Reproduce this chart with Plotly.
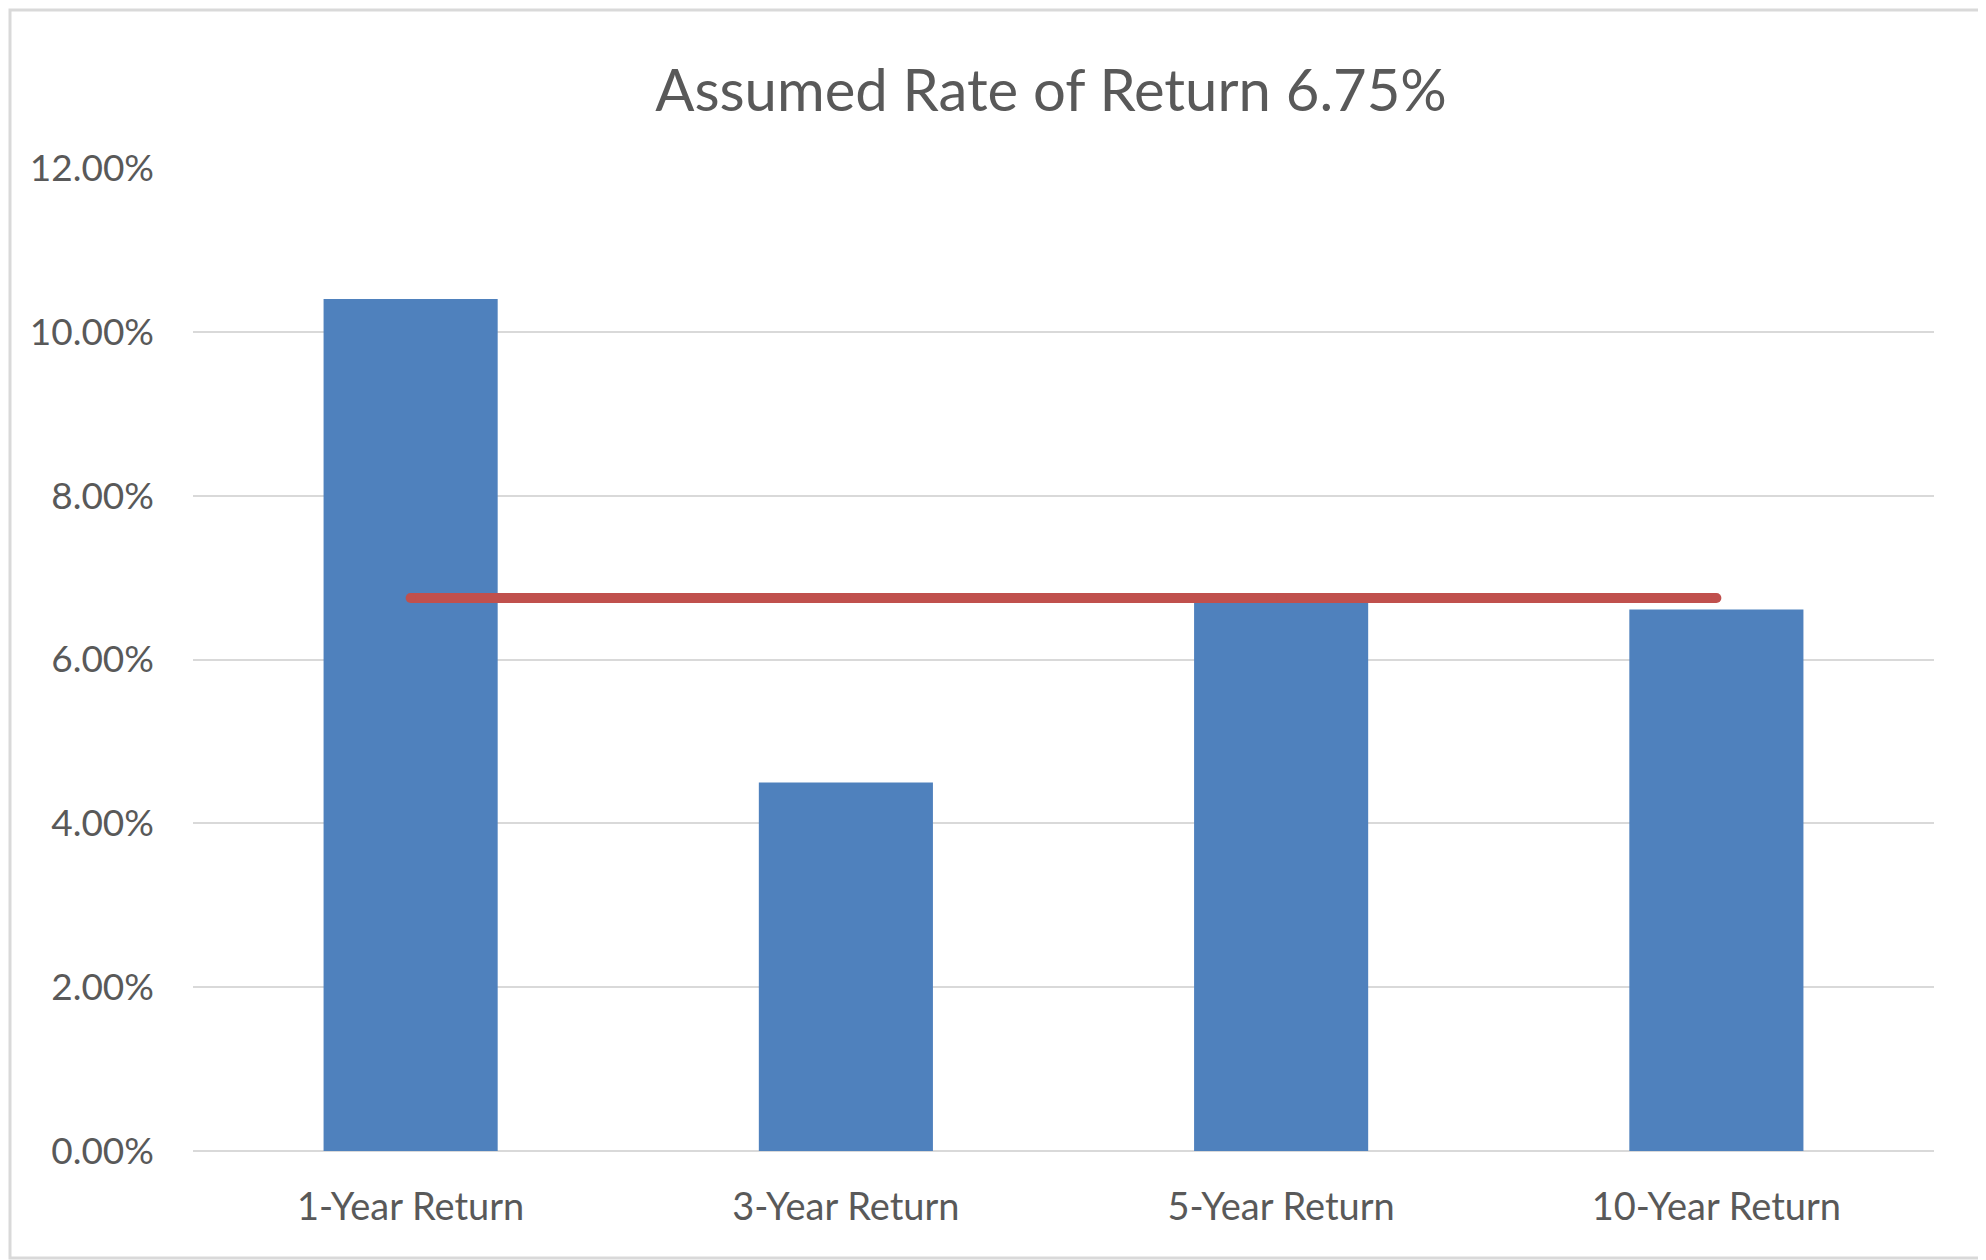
import plotly.graph_objects as go

categories = ["1-Year Return", "3-Year Return", "5-Year Return", "10-Year Return"]
returns = [0.1040, 0.0450, 0.0672, 0.0661]
assumed_rate = 0.0675
y_ticks = [0, 0.02, 0.04, 0.06, 0.08, 0.10, 0.12]

# page body has an 8px margin, so the figure is sized to end at the window edge
W, H = 1978, 1252
m_l, m_r, m_t, m_b = 185, 52, 160, 109
pw, ph = W - m_l - m_r, H - m_t - m_b

fig = go.Figure()

fig.add_trace(go.Bar(
    x=categories, y=returns,
    marker=dict(color="#4F81BD", line=dict(width=0)),
    hoverinfo="x+y",
))

fig.add_trace(go.Scatter(  # assumed rate line, markers give it round caps
    x=categories, y=[assumed_rate] * len(categories),
    mode="lines+markers",
    line=dict(color="#C0504D", width=10),
    marker=dict(color="#C0504D", size=10),
))

fig.update_yaxes(
    range=[0, 0.12], tickvals=y_ticks, tickformat=".2%",
    gridcolor="#D9D9D9", gridwidth=2,
    zeroline=True, zerolinecolor="#D9D9D9", zerolinewidth=2,
    ticklabelstandoff=38,
    tickfont=dict(family="Lato", size=37, color="#595959"),
)
fig.update_xaxes(
    showgrid=False, showline=False,
    ticklabelstandoff=30,
    tickfont=dict(family="Lato", size=38, color="#595959"),
)

fig.update_layout(
    width=W, height=H,
    margin=dict(l=m_l, r=m_r, t=m_t, b=m_b),
    paper_bgcolor="white", plot_bgcolor="white",
    bargap=0.6, showlegend=False,
    title=dict(
        text="Assumed Rate of Return 6.75%",
        x=1043 / W, xanchor="center", y=1 - 83 / H, yanchor="middle",
        font=dict(family="Lato", size=58, color="#595959"),
    ),
    shapes=[dict(  # chart border
        type="rect", xref="paper", yref="paper",
        x0=-(m_l - 2) / pw, x1=1 + (m_r - 2) / pw,
        y0=-(m_b - 2) / ph, y1=1 + (m_t - 2) / ph,
        line=dict(color="#D9D9D9", width=3), layer="below",
    )],
)

fig.write_html("out.html")
